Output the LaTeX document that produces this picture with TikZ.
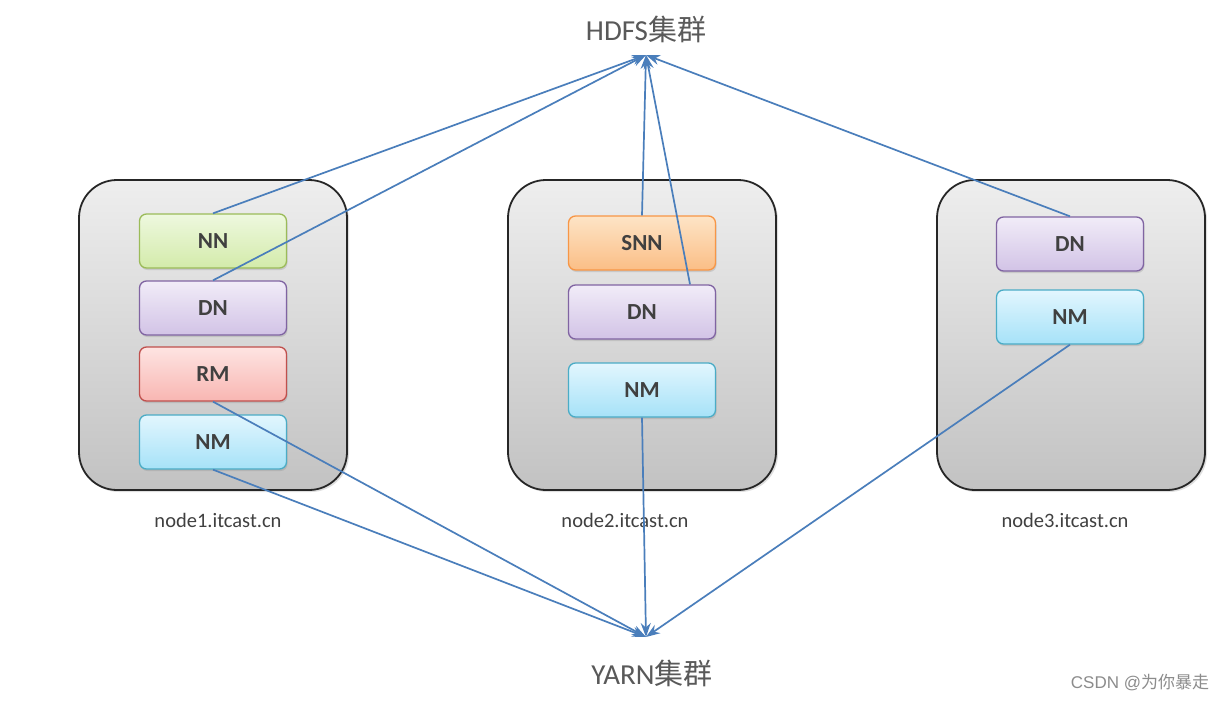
\documentclass[tikz,border=0pt]{standalone}
\usepackage{fontspec}
\setmainfont{Carlito}
\newfontfamily\cjk{Noto Sans CJK SC}
\newfontfamily\wmfont{Liberation Sans}
\usetikzlibrary{arrows.meta,shadows}

\definecolor{linkblue}{HTML}{4A7EBB}
\definecolor{labelgray}{HTML}{404040}
\definecolor{titlegray}{HTML}{595959}
\definecolor{srvtop}{HTML}{EEEEEE}
\definecolor{srvbot}{HTML}{C2C2C2}
\definecolor{nnline}{HTML}{9BBB59}
\definecolor{nntop}{HTML}{EEF8DF}
\definecolor{nnbot}{HTML}{D3EBAA}
\definecolor{dnline}{HTML}{8064A2}
\definecolor{dntop}{HTML}{F1ECF8}
\definecolor{dnbot}{HTML}{D2C3E6}
\definecolor{rmline}{HTML}{C0504D}
\definecolor{rmtop}{HTML}{FEE4E2}
\definecolor{rmbot}{HTML}{F8B6B2}
\definecolor{nmline}{HTML}{4BACC6}
\definecolor{nmtop}{HTML}{E2F6FE}
\definecolor{nmbot}{HTML}{A6E2F8}
\definecolor{snnline}{HTML}{F79646}
\definecolor{snntop}{HTML}{FDE4C6}
\definecolor{snnbot}{HTML}{FBBE86}

\tikzset{
  server/.style={draw=black!85, line width=1.8pt, rounded corners=38pt,
    top color=srvtop, bottom color=srvbot,
    minimum width=268pt, minimum height=310pt,
    drop shadow={opacity=0.25, shadow xshift=2pt, shadow yshift=-2pt}},
  role/.style={rounded corners=7pt, line width=1.3pt,
    minimum width=147pt, minimum height=54pt, text=labelgray,
    font=\fontsize{23}{26}\selectfont\bfseries,
    drop shadow={opacity=0.25, shadow xshift=1pt, shadow yshift=-2pt}},
  nnbox/.style={role, draw=nnline, top color=nntop, bottom color=nnbot},
  dnbox/.style={role, draw=dnline, top color=dntop, bottom color=dnbot},
  rmbox/.style={role, draw=rmline, top color=rmtop, bottom color=rmbot},
  nmbox/.style={role, draw=nmline, top color=nmtop, bottom color=nmbot},
  snnbox/.style={role, draw=snnline, top color=snntop, bottom color=snnbot},
  hostname/.style={text=labelgray, font=\fontsize{20.5}{23}\selectfont},
  cluster/.style={text=titlegray, font=\fontsize{29}{32}\selectfont},
  link/.style={draw=linkblue, line width=1.7pt, -{Stealth[length=14pt,width=10pt]}}
}

\begin{document}
\begin{tikzpicture}[x=1pt, y=-1pt]

  \fill[white] (0,0) rectangle (1223,701);
  \useasboundingbox (0,0) rectangle (1223,701);

  % servers
  \node[server] (srv1) at (213,335) {};
  \node[server] (srv2) at (642,335) {};
  \node[server] (srv3) at (1071,335) {};

  % node1
  \node[nnbox] (nn1) at (213,241) {NN};
  \node[dnbox] (dn1) at (213,308) {DN};
  \node[rmbox] (rm1) at (213,374) {RM};
  \node[nmbox] (nm1) at (213,442) {NM};

  % node2
  \node[snnbox] (snn2) at (642,243) {SNN};
  \node[dnbox]  (dn2)  at (642,312) {DN};
  \node[nmbox]  (nm2)  at (642,390) {NM};

  % node3
  \node[dnbox] (dn3) at (1070,244) {DN};
  \node[nmbox] (nm3) at (1070,317) {NM};

  % host names
  \node[hostname] (host1) at (218,520) {node1.itcast.cn};
  \node[hostname] (host2) at (625,520) {node2.itcast.cn};
  \node[hostname] (host3) at (1065,520) {node3.itcast.cn};

  % clusters
  \node[cluster] (hdfs) at (646,29) {HDFS{\cjk 集群}};
  \node[cluster] (yarn) at (652,673) {YARN{\cjk 集群}};
  \coordinate (hdfsin) at (646,55);
  \coordinate (yarnin) at (646,637);

  % HDFS links
  \draw[link] (nn1.north) -- (hdfsin);
  \draw[link] (dn1.north) -- (hdfsin);
  \draw[link] (snn2.north) -- (hdfsin);
  \draw[link] ([xshift=48pt]dn2.north) -- (hdfsin);
  \draw[link] (dn3.north) -- (hdfsin);

  % YARN links
  \draw[link] (rm1.south) -- (yarnin);
  \draw[link] (nm1.south) -- (yarnin);
  \draw[link] (nm2.south) -- (yarnin);
  \draw[link] (nm3.south) -- (yarnin);

  % watermark
  \node[text=black!45, font=\fontsize{17}{19}\wmfont] (mark) at (1140,683) {CSDN @{\cjk 为你暴走}};

\end{tikzpicture}
\end{document}
